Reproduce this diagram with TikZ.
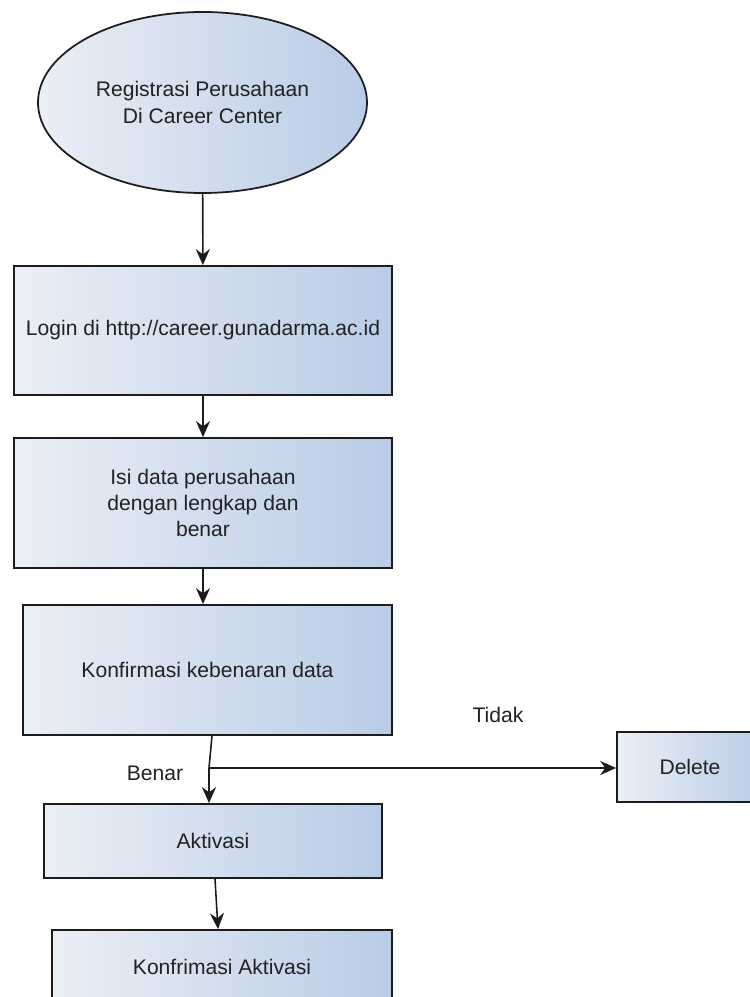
\documentclass[tikz,border=0pt]{standalone}
\usepackage{xcolor}
\usepackage{fontspec}
\setmainfont{Liberation Sans}
\definecolor{flow-light}{HTML}{EBEFF6}
\definecolor{flow-blue}{HTML}{B9CCE6}
\definecolor{flow-line}{HTML}{1C1C1C}
\definecolor{flow-text}{HTML}{222222}
\usetikzlibrary{arrows.meta, shapes.geometric}
\tikzset{
    flowbox/.style={draw=flow-line, line width=1pt, left color=flow-light, right color=flow-blue,
                    text=flow-text, font=\fontsize{12}{15}\selectfont, align=center, inner sep=0pt},
    flowarrow/.style={draw=flow-line, line width=0.9pt, -{Stealth[length=3.2mm, width=2.8mm]}},
    flowlabel/.style={text=flow-text, font=\fontsize{12}{15}\selectfont, inner sep=0pt}
}

\begin{document}
\begin{tikzpicture}[x=0.2mm, y=-0.2mm]

    % Canvas
    \useasboundingbox (0, 0) rectangle (750, 997);
    \clip (0, 0) rectangle (750, 997);

    % Start
    \node[flowbox, ellipse, minimum width=6.58cm, minimum height=3.62cm] (registrasi) at (202.5, 102.5)
        {Registrasi Perusahaan\\Di Career Center};

    % Steps
    \node[flowbox, minimum width=7.56cm, minimum height=2.58cm] (login) at (203, 330.5)
        {Login di http://career.gunadarma.ac.id};
    \node[flowbox, minimum width=7.56cm, minimum height=2.6cm] (isi) at (203, 503)
        {Isi data perusahaan\\dengan lengkap dan\\benar};
    \node[flowbox, minimum width=7.38cm, minimum height=2.6cm] (konfdata) at (207.5, 670)
        {Konfirmasi kebenaran data};
    \node[flowbox, minimum width=6.76cm, minimum height=1.48cm] (aktivasi) at (213, 841) {Aktivasi};
    \node[flowbox, minimum width=6.8cm, minimum height=1.48cm] (konfaktivasi) at (222, 967) {Konfrimasi Aktivasi};
    \node[flowbox, minimum width=2.92cm, minimum height=1.4cm] (delete) at (690, 767) {Delete};

    % Branch
    \coordinate (split) at (209, 768);
    \node[flowlabel] (tidak) at (498, 715) {Tidak};
    \node[flowlabel] (benar) at (155, 773) {Benar};

    % Arrows
    \draw[flowarrow] (registrasi) -- (login);
    \draw[flowarrow] (login) -- (isi);
    \draw[flowarrow] (isi.south) -- (isi.south |- konfdata.north);
    \draw[flowarrow] ([xshift=0.9mm]konfdata.south) -- (split) -- (split |- aktivasi.north);
    \draw[flowarrow] (split) -- (split -| delete.west);
    \draw[flowarrow] ([xshift=0.4mm]aktivasi.south) -- ([xshift=-0.8mm]konfaktivasi.north);

\end{tikzpicture}
\end{document}
